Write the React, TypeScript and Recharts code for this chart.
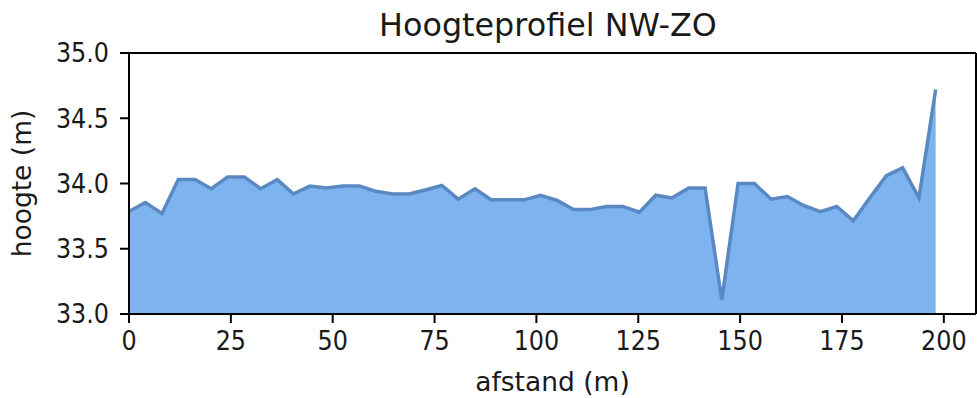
import React from 'react';
import { AreaChart, Area, XAxis, YAxis, ReferenceLine } from 'recharts';

const afstand = [
  0, 4.0, 8.1, 12.1, 16.2, 20.2, 24.2, 28.3, 32.3, 36.4,
  40.4, 44.4, 48.5, 52.5, 56.6, 60.6, 64.7, 68.7, 72.7, 76.8,
  80.8, 84.9, 88.9, 92.9, 97.0, 101.0, 105.1, 109.1, 113.1, 117.2,
  121.2, 125.3, 129.3, 133.3, 137.4, 141.4, 145.5, 149.5, 153.5, 157.6,
  161.6, 165.7, 169.7, 173.7, 177.8, 181.8, 185.9, 189.9, 193.9, 198.0,
];

const hoogte = [
  33.785, 33.854, 33.77, 34.03, 34.03, 33.96, 34.05, 34.05, 33.96, 34.03,
  33.92, 33.98, 33.965, 33.98, 33.98, 33.94, 33.92, 33.92, 33.95, 33.985,
  33.88, 33.96, 33.875, 33.875, 33.875, 33.91, 33.87, 33.8, 33.8, 33.824,
  33.824, 33.78, 33.91, 33.89, 33.965, 33.965, 33.108, 34.0, 34.0, 33.88,
  33.9, 33.83, 33.785, 33.824, 33.714, 33.888, 34.06, 34.12, 33.89, 34.72,
];

const xTicks = [0, 25, 50, 75, 100, 125, 150, 175, 200];
const yTicks = [33.0, 33.5, 34.0, 34.5, 35.0];
const xMax = 207.9;

const titel = 'Hoogteprofiel NW-ZO';
const xLabel = 'afstand (m)';
const yLabel = 'hoogte (m)';

const data = afstand.map((x, i) => ({ x, h: hoogte[i] }));

const FONT = 'DejaVu Sans';
const TICKFONT = "'DejaVu Sans Condensed', 'DejaVu Sans'";
const tickStyle = { fontSize: 26.5, fill: '#1a1a1a', fontFamily: TICKFONT };

export default function App() {
  return (
    <div style={{ position: 'absolute', left: 0, top: 0, width: 977, height: 398, background: '#fff' }}>
      <AreaChart
        width={977}
        height={398}
        data={data}
        margin={{ top: 53, right: 1, bottom: 0, left: 0 }}
      >
        <XAxis
          type="number"
          dataKey="x"
          domain={[0, xMax]}
          ticks={xTicks}
          height={84}
          tickSize={9}
          tickMargin={8}
          axisLine={{ stroke: '#000', strokeWidth: 2 }}
          tickLine={{ stroke: '#000', strokeWidth: 2 }}
          tick={tickStyle}
          interval={0}
          label={{ value: xLabel, position: 'insideBottom', offset: 7, style: { fontSize: 26.5, fill: '#1a1a1a', fontFamily: FONT } }}
        />
        <YAxis
          type="number"
          domain={[33, 35]}
          ticks={yTicks}
          width={129}
          tickSize={9}
          tickMargin={11}
          axisLine={{ stroke: '#000', strokeWidth: 2 }}
          tickLine={{ stroke: '#000', strokeWidth: 2 }}
          tick={tickStyle}
          interval={0}
          tickFormatter={(v: number) => v.toFixed(1)}
          label={{
            content: (props: any) => {
              const vb = props.viewBox || { x: 0, y: 0, height: 0 };
              const cx = 31;
              const cy = vb.y + vb.height / 2;
              return (
                <text
                  x={cx}
                  y={cy}
                  transform={`rotate(-90, ${cx}, ${cy})`}
                  textAnchor="middle"
                  style={{ fontSize: 26.5, fill: '#1a1a1a', fontFamily: FONT }}
                >
                  {yLabel}
                </text>
              );
            },
          }}
        />
        <Area
          type="linear"
          dataKey="h"
          stroke="#5a88c2"
          strokeWidth={3.5}
          fill="#7db4f0"
          fillOpacity={1}
          isAnimationActive={false}
          dot={false}
          activeDot={false}
        />
        <ReferenceLine y={35} stroke="#000" strokeWidth={2} />
        <ReferenceLine x={xMax} stroke="#000" strokeWidth={2} />
      </AreaChart>
      <svg width={977} height={60} style={{ position: 'absolute', left: 0, top: 0, pointerEvents: 'none' }}>
        <text x={548} y={36} textAnchor="middle" style={{ fontSize: 31.8, fill: '#1a1a1a', fontFamily: FONT }}>
          {titel}
        </text>
      </svg>
    </div>
  );
}
